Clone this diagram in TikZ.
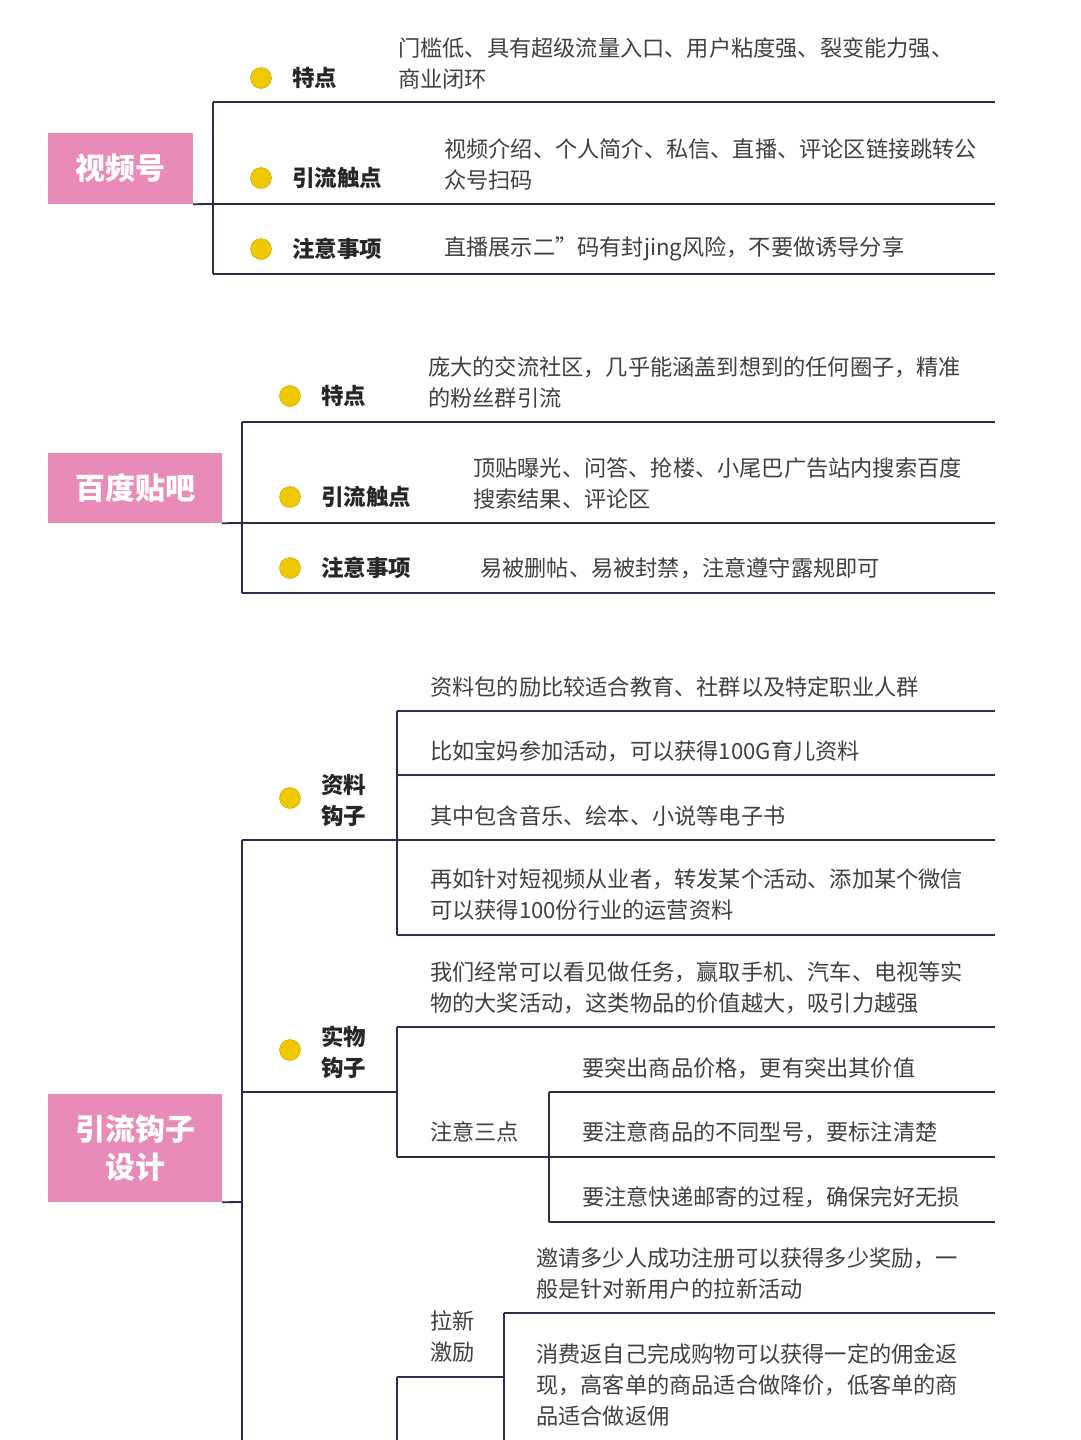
\documentclass[tikz,border=0pt]{standalone}
\usepackage{fontspec}
\setmainfont{Noto Sans CJK SC}
\begin{document}
\begin{tikzpicture}[x=1pt,y=-1pt,
  ln/.style={draw=lnc,line width=1.8pt},
  box/.style={fill=pinkc,text=white,font=\bfseries\fontsize{30}{38}\selectfont,align=center,inner sep=0pt},
  dot/.style={circle,fill=dotc,draw=dotc!80!black,line width=0.4pt,minimum size=21pt,inner sep=0pt},
  lab/.style={anchor=west,font=\bfseries\fontsize{22.5}{31}\selectfont,text=black!85,align=left,inner sep=0pt},
  txt/.style={anchor=west,font=\fontsize{22.2}{31}\selectfont,text=black!75,align=left,inner sep=0pt}]
\definecolor{lnc}{HTML}{2B2B4A}
\definecolor{pinkc}{HTML}{E88BB9}
\definecolor{dotc}{HTML}{F0C800}
\useasboundingbox (0,0) rectangle (1080,1440);
\fill[white] (0,0) rectangle (1080,1440);
% section 1
\node[box,minimum width=145pt,minimum height=71pt] (b1) at (120.5,168.5) {视频号};
\coordinate (v1t) at (213,102); \coordinate (v1b) at (213,274); \coordinate (v1m) at (213,204);
\draw[ln] (b1.south east) -- (v1m);
\draw[ln] (v1t) -- (v1b);
\draw[ln] (v1t) -- (995,102);
\draw[ln] (v1m) -- (995,204);
\draw[ln] (v1b) -- (995,274);
\node[dot] (d11) at (261,78) {}; \node[lab] (l11) at (292,78) {特点};
\node[txt] (t11) at (398,63) {门槛低、具有超级流量入口、用户粘度强、裂变能力强、\\商业闭环};
\node[dot] (d12) at (261,178) {}; \node[lab] (l12) at (292,178) {引流触点};
\node[txt] (t12) at (444,164) {视频介绍、个人简介、私信、直播、评论区链接跳转公\\众号扫码};
\node[dot] (d13) at (261,249) {}; \node[lab] (l13) at (292,249) {注意事项};
\node[txt] (t13) at (444,249) {直播展示二”码有封jing风险，不要做诱导分享};
% section 2
\node[box,minimum width=174pt,minimum height=70pt] (b2) at (135,488) {百度贴吧};
\coordinate (v2t) at (242,422); \coordinate (v2b) at (242,593); \coordinate (v2m) at (242,523);
\draw[ln] (b2.south east) -- (v2m);
\draw[ln] (v2t) -- (v2b);
\draw[ln] (v2t) -- (995,422);
\draw[ln] (v2m) -- (995,523);
\draw[ln] (v2b) -- (995,593);
\node[dot] (d21) at (290,396) {}; \node[lab] (l21) at (321,396) {特点};
\node[txt] (t21) at (428,382) {庞大的交流社区，几乎能涵盖到想到的任何圈子，精准\\的粉丝群引流};
\node[dot] (d22) at (290,497) {}; \node[lab] (l22) at (321,497) {引流触点};
\node[txt] (t22) at (473,483) {顶贴曝光、问答、抢楼、小尾巴广告站内搜索百度\\搜索结果、评论区};
\node[dot] (d23) at (290,568) {}; \node[lab] (l23) at (321,568) {注意事项};
\node[txt] (t23) at (480,568) {易被删帖、易被封禁，注意遵守露规即可};
% section 3
\node[box,minimum width=174pt,minimum height=108pt] (b3) at (135,1148) {引流钩子\\设计};
\coordinate (v3t) at (242,840); \coordinate (v3m) at (242,1202);
\draw[ln] (b3.south east) -- (v3m);
\draw[ln] (v3t) -- (242,1440);
% child 1
\coordinate (c1) at (397,840);
\draw[ln] (v3t) -- (c1);
\node[dot] (d31) at (290,798) {}; \node[lab] (l31) at (321,800) {资料\\钩子};
\draw[ln] (397,711) -- (397,935);
\draw[ln] (397,711) -- (995,711);
\draw[ln] (397,775) -- (995,775);
\draw[ln] (c1) -- (995,840);
\draw[ln] (397,935) -- (995,935);
\node[txt] (t31) at (430,687) {资料包的励比较适合教育、社群以及特定职业人群};
\node[txt] (t32) at (430,751) {比如宝妈参加活动，可以获得100G育儿资料};
\node[txt] (t33) at (430,816) {其中包含音乐、绘本、小说等电子书};
\node[txt] (t34) at (430,895) {再如针对短视频从业者，转发某个活动、添加某个微信\\可以获得100份行业的运营资料};
% child 2
\coordinate (c2) at (397,1092);
\draw[ln] (242,1092) -- (c2);
\node[dot] (d32) at (290,1050) {}; \node[lab] (l32) at (321,1052) {实物\\钩子};
\draw[ln] (397,1027) -- (397,1157);
\draw[ln] (397,1027) -- (995,1027);
\node[txt] (t35) at (430,988) {我们经常可以看见做任务，赢取手机、汽车、电视等实\\物的大奖活动，这类物品的价值越大，吸引力越强};
\coordinate (c22) at (549,1157);
\draw[ln] (397,1157) -- (c22);
\node[txt] (t36) at (430,1132) {注意三点};
\draw[ln] (549,1092) -- (549,1222);
\draw[ln] (549,1092) -- (995,1092);
\draw[ln] (c22) -- (995,1157);
\draw[ln] (549,1222) -- (995,1222);
\node[txt] (t37) at (582,1068) {要突出商品价格，更有突出其价值};
\node[txt] (t38) at (582,1132) {要注意商品的不同型号，要标注清楚};
\node[txt] (t39) at (582,1197) {要注意快递邮寄的过程，确保完好无损};
% child 3
\coordinate (c3) at (504,1377);
\draw[ln] (397,1377) -- (c3);
\draw[ln] (397,1377) -- (397,1440);
\node[txt] (t40) at (430,1337) {拉新\\激励};
\draw[ln] (504,1313) -- (504,1440);
\draw[ln] (504,1313) -- (995,1313);
\node[txt] (t41) at (536,1274) {邀请多少人成功注册可以获得多少奖励，一\\般是针对新用户的拉新活动};
\node[txt] (t42) at (536,1385) {消费返自己完成购物可以获得一定的佣金返\\现，高客单的商品适合做降价，低客单的商\\品适合做返佣};
\end{tikzpicture}
\end{document}
